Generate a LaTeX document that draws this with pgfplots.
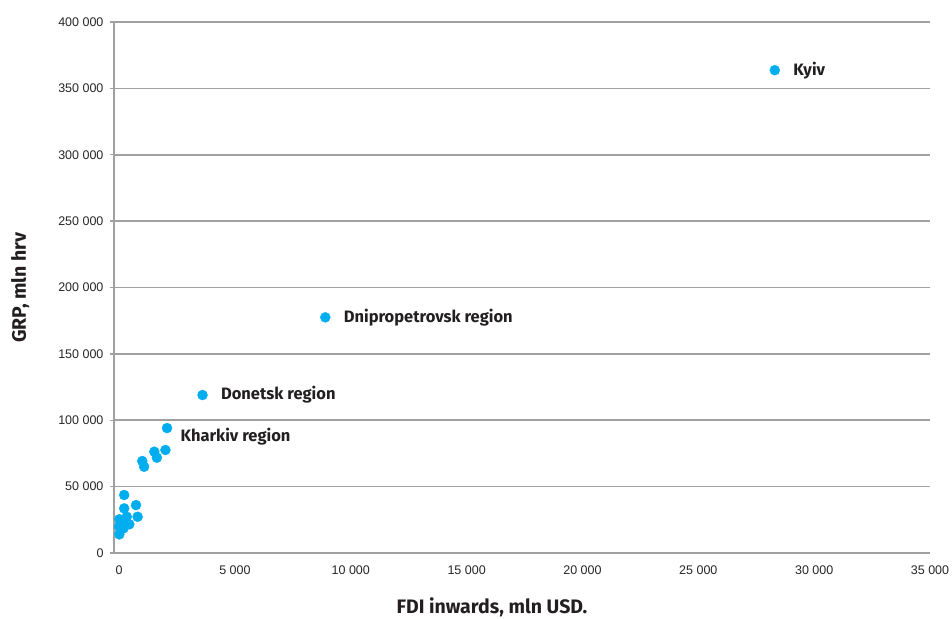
\documentclass[border=0pt]{standalone}
\usepackage{pgfplots}
\pgfplotsset{compat=1.18}
\usepackage{fontspec}
\setmainfont{Liberation Sans}
\newfontfamily\labfont{Fira Sans}
\definecolor{gridgray}{RGB}{160,160,160}
\definecolor{ptcyan}{RGB}{0,174,239}
\definecolor{txt}{RGB}{35,31,32}
\begin{document}
\begin{tikzpicture}[x=1pt,y=1pt]
\path[use as bounding box] (0,0) rectangle (952,618);
\begin{axis}[
  at={(114pt,65pt)}, anchor=south west,
  scale only axis, width=816pt, height=531pt,
  xmin=-220, xmax=35000, ymin=0, ymax=400000,
  scaled ticks=false,
  axis lines*=left,
  axis line style={gridgray, line width=1.6pt},
  ymajorgrids, grid style={gridgray, line width=1.6pt},
  xtick={0,5000,10000,15000,20000,25000,30000,35000},
  xticklabels={0,5 000,10 000,15 000,20 000,25 000,30 000,\raisebox{5pt}{35 000}},
  ytick={0,50000,100000,150000,200000,250000,300000,350000,400000},
  yticklabels={0,50 000,100 000,150 000,200 000,250 000,300 000,350 000,400 000},
  x tick style={draw=none},
  y tick style={gridgray, line width=1.4pt},
  tick align=outside, major tick length=4pt,
  tick label style={font=\fontsize{12.5}{14}\selectfont, text=black!85},
  xticklabel style={yshift=-5pt},
  yticklabel style={xshift=-3pt},
  xlabel={\labfont\bfseries FDI inwards, mln USD.},
  ylabel={\labfont\bfseries GRP, mln hrv},
  label style={font=\fontsize{19.5}{22}\selectfont, text=txt},
  xlabel style={yshift=-12pt, xshift=-30pt},
  ylabel style={yshift=22pt},
  clip=false,
]
\addplot[only marks, mark=*, mark size=5pt, mark options={fill=ptcyan, draw=ptcyan}] coordinates {
  (28300,363700)
  (8900,177500)
  (3600,119000)
  (2070,94100)
  (2000,77600)
  (1520,76300)
  (1630,71800)
  (1000,69300)
  (1080,65000)
  (220,43700)
  (220,33600)
  (730,36100)
  (330,27300)
  (800,27300)
  (10,25400)
  (440,21600)
  (0,19800)
  (190,18600)
  (10,14000)
  (120,23500)
  (300,22000)
};
\node[anchor=west, text=txt, font=\labfont\bfseries\fontsize{16.5}{19}\selectfont] at (axis cs:28300,363700) [xshift=15pt] {Kyiv};
\node[anchor=west, text=txt, font=\labfont\bfseries\fontsize{16.5}{19}\selectfont] at (axis cs:8900,177500) [xshift=15pt] {Dnipropetrovsk region};
\node[anchor=west, text=txt, font=\labfont\bfseries\fontsize{16.5}{19}\selectfont] at (axis cs:3600,119000) [xshift=15pt] {Donetsk region};
\node[anchor=west, text=txt, font=\labfont\bfseries\fontsize{16.5}{19}\selectfont] at (axis cs:2070,94100) [xshift=10pt, yshift=-9pt] {Kharkiv region};
\end{axis}
\end{tikzpicture}
\end{document}
